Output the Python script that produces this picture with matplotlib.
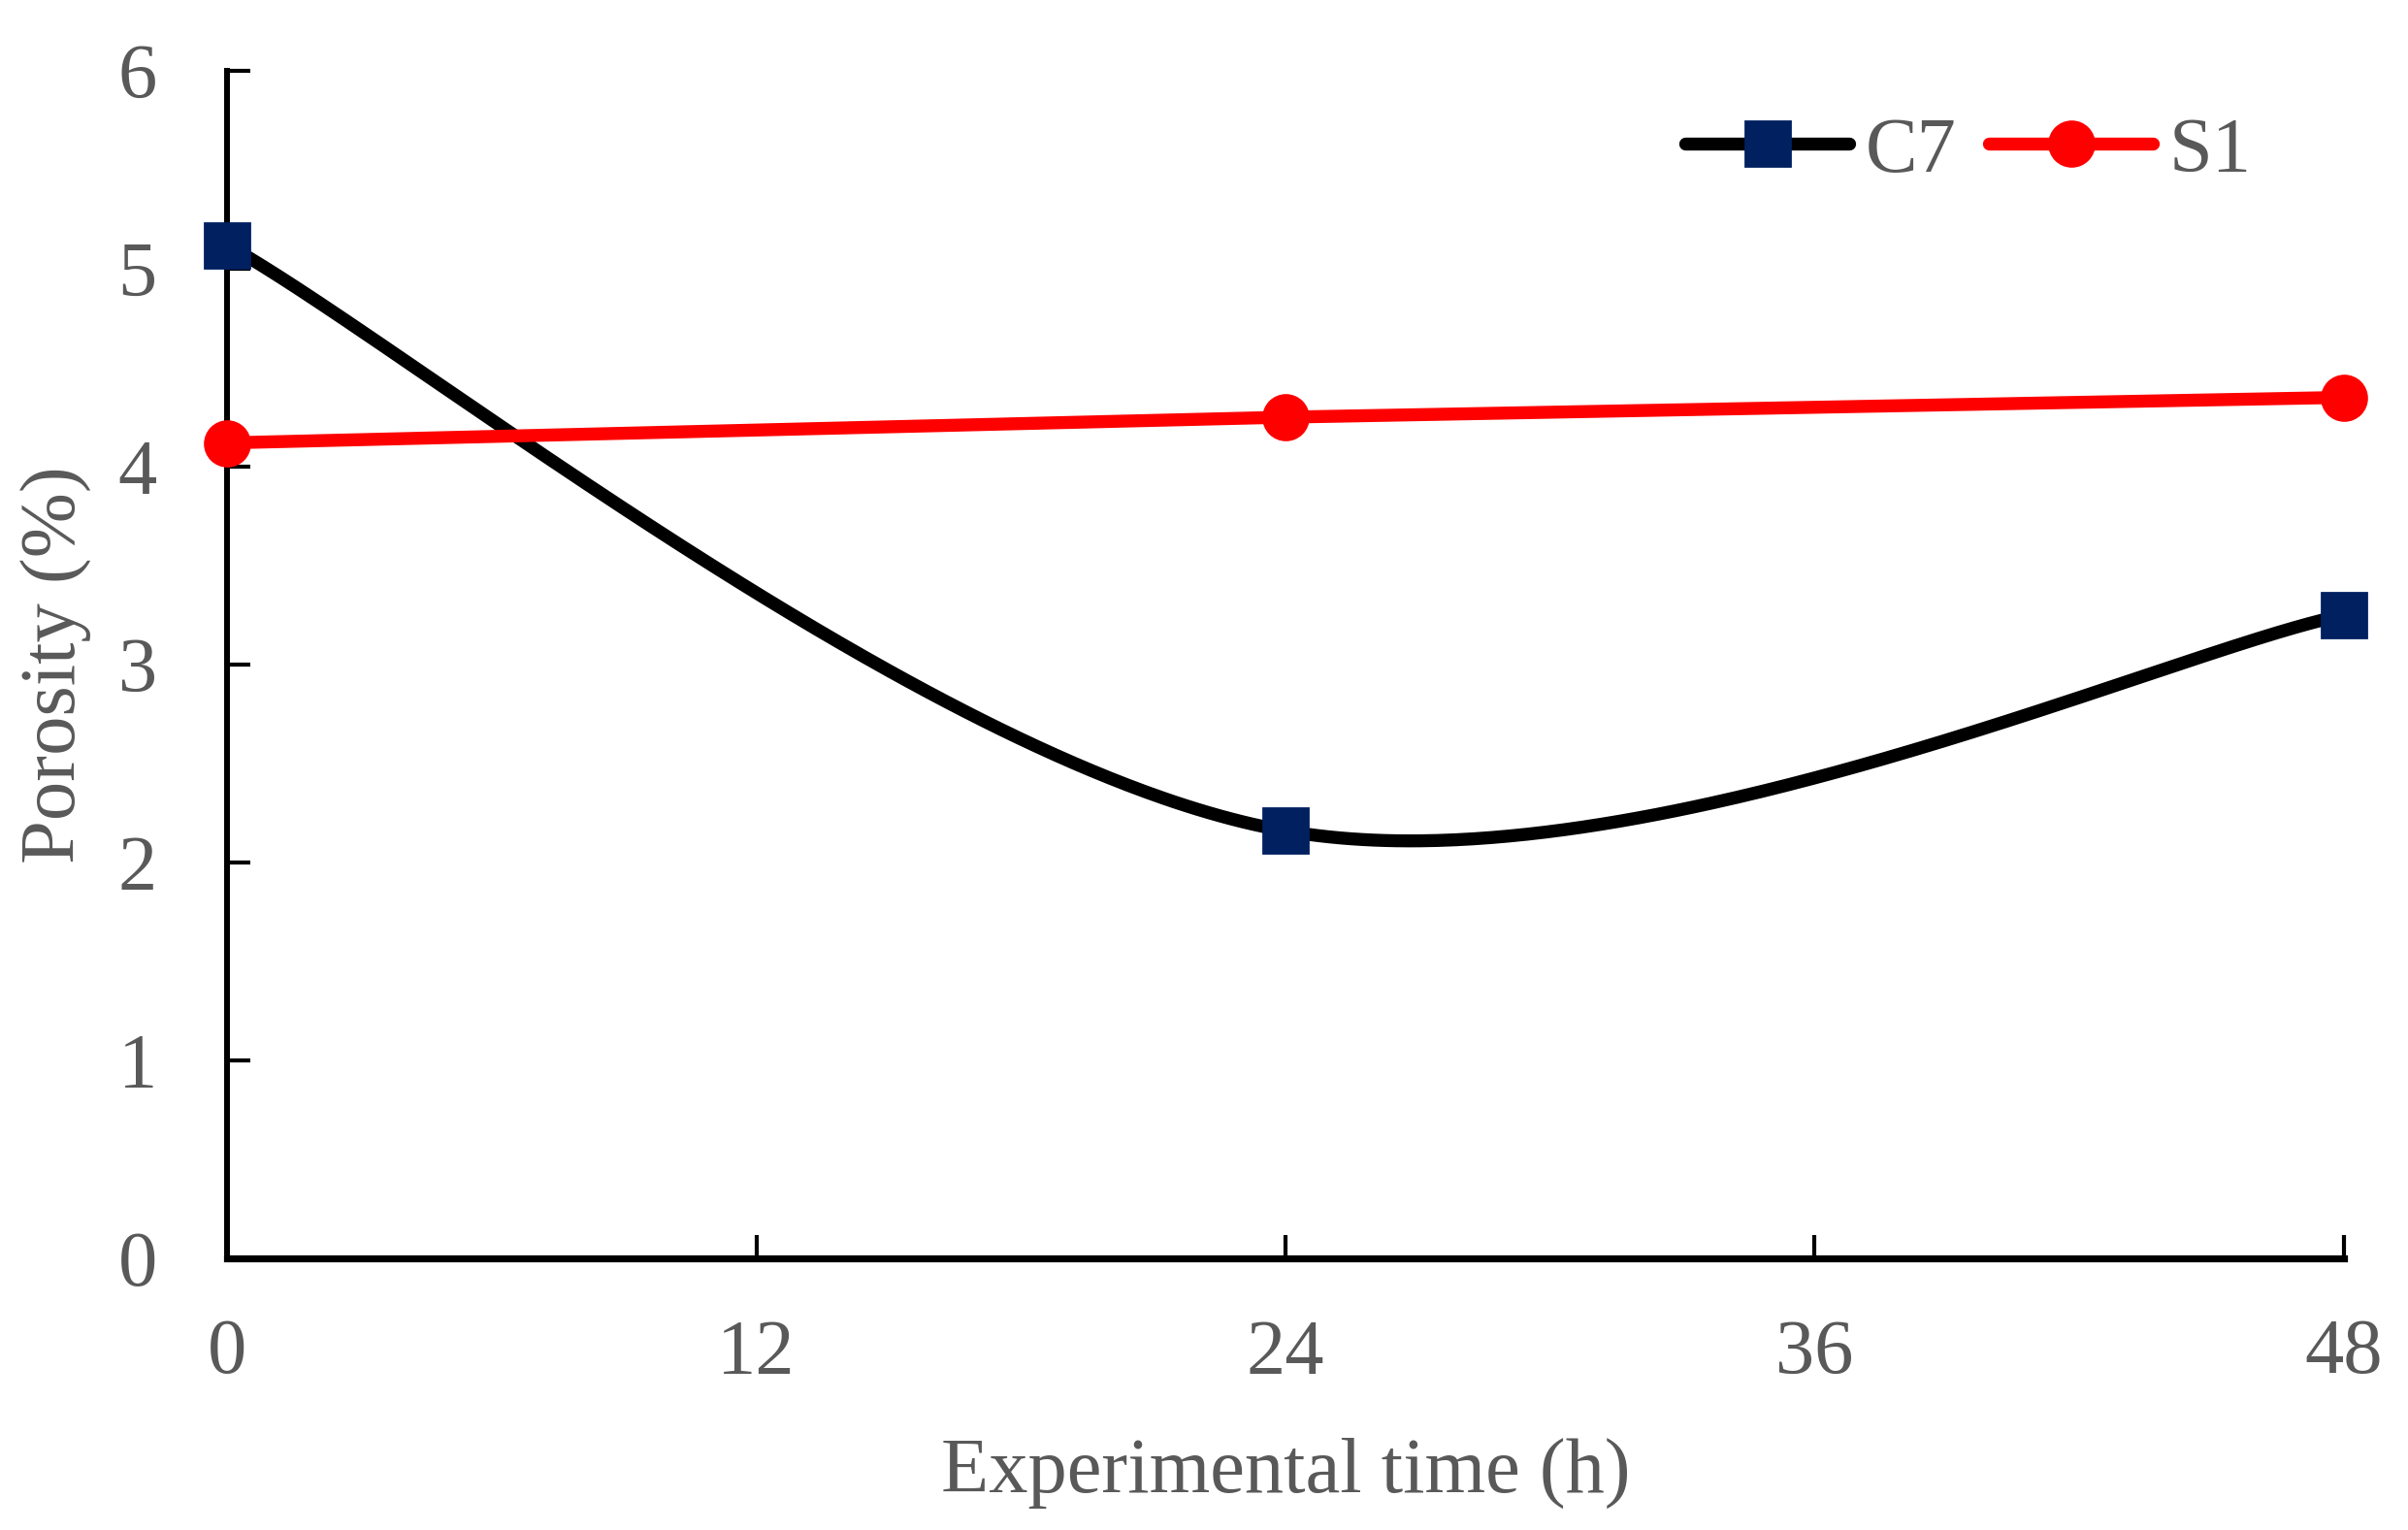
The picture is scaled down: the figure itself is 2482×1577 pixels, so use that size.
import numpy as np
import matplotlib
matplotlib.use("Agg")
import matplotlib.pyplot as plt
from matplotlib.lines import Line2D

# ---- data ----
time_h = [0, 24, 48]
c7 = [5.12, 2.16, 3.25]
s1 = [4.12, 4.25, 4.35]
xticks = [0, 12, 24, 36, 48]
yticks = [0, 1, 2, 3, 4, 5, 6]

GRAY = "#595959"
NAVY = "#002060"
RED = "#FF0000"
FS = 58

plt.rcParams["font.family"] = ["Liberation Serif", "DejaVu Serif"]

W, H = 2482, 1577
fig = plt.figure(figsize=(W / 100, H / 100), dpi=100)
ax = fig.add_axes([234 / W, 1 - 1297 / H, (2416 - 234) / W, (1297 - 73) / H])


def excel_smooth(xs, ys, n=200):
    """Excel-style smoothed line (cubic Bezier, tension 1/6)."""
    P = np.column_stack([xs, ys]).astype(float)
    m = len(P)
    out = []
    for i in range(m - 1):
        p0 = P[max(i - 1, 0)]
        p1 = P[i]
        p2 = P[i + 1]
        p3 = P[min(i + 2, m - 1)]
        c1 = p1 + (p2 - p0) / 6.0
        c2 = p2 - (p3 - p1) / 6.0
        t = np.linspace(0, 1, n)[:, None]
        seg = ((1 - t) ** 3) * p1 + 3 * ((1 - t) ** 2) * t * c1 + 3 * (1 - t) * t ** 2 * c2 + t ** 3 * p2
        out.append(seg if i == 0 else seg[1:])
    out = np.vstack(out)
    return out[:, 0], out[:, 1]


LW = 9.6
MS = 33
MEW = 2

sx, sy = excel_smooth(time_h, c7)
ax.plot(sx, sy, color="black", lw=LW, solid_capstyle="round", zorder=3, clip_on=False)
ax.plot(time_h, c7, ls="none", marker="s", ms=MS, mfc=NAVY, mec=NAVY, mew=MEW,
        zorder=4, clip_on=False)
ax.plot(time_h, s1, color=RED, lw=LW, solid_capstyle="round", zorder=5, clip_on=False)
ax.plot(time_h, s1, ls="none", marker="o", ms=MS, mfc=RED, mec=RED, mew=MEW,
        zorder=6, clip_on=False)

ax.set_xlim(0, 48)
ax.set_ylim(0, 6)
ax.set_xticks(xticks)
ax.set_yticks(yticks)
ax.set_xticklabels([str(v) for v in xticks])
ax.set_yticklabels([str(v) for v in yticks])

for side in ["top", "right"]:
    ax.spines[side].set_visible(False)
ax.spines["left"].set_linewidth(4.3)
ax.spines["bottom"].set_linewidth(5.2)

ax.tick_params(axis="both", direction="in", length=17, width=3, colors="black",
               labelcolor=GRAY, labelsize=FS)
ax.tick_params(axis="x", pad=45)
ax.tick_params(axis="y", pad=52)

fig.text(1325 / W, 1 - 1538 / H, "Experimental time (h)", ha="center", va="baseline",
         fontsize=FS, color=GRAY)
fig.text(58 / W, 1 - 685 / H, "Porosity (%)", rotation=90, ha="center", va="center",
         fontsize=FS, color=GRAY)

handles = [
    Line2D([], [], color="black", lw=LW, solid_capstyle="round", marker="s", ms=MS,
           mfc=NAVY, mec=NAVY, mew=MEW),
    Line2D([], [], color=RED, lw=LW, solid_capstyle="round", marker="o", ms=MS,
           mfc=RED, mec=RED, mew=MEW),
]
leg = fig.legend(handles, ["C7", "S1"], loc="center left",
                 bbox_to_anchor=(1737 / W, 1 - 157 / H), ncol=2, frameon=False,
                 fontsize=FS, labelcolor=GRAY, handlelength=2.1, handletextpad=0.2,
                 columnspacing=0.42, borderpad=0, borderaxespad=0)

fig.savefig("out.png", dpi=100, facecolor="white")
